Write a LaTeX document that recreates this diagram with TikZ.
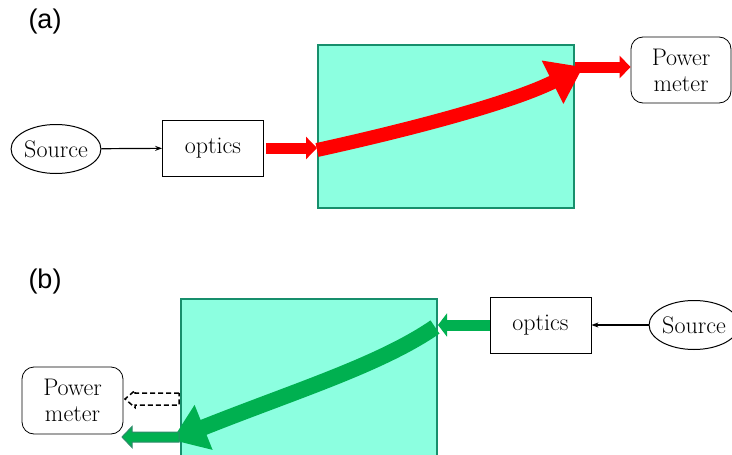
\documentclass[tikz,border=0pt]{standalone}
\usepackage{fontspec}
\newfontfamily\panelfont{Liberation Sans}
\usepackage{tikz}
\usetikzlibrary{arrows.meta, positioning, calc, shapes.geometric}

\definecolor{sampleFill}{HTML}{8CFFE0}
\definecolor{sampleEdge}{HTML}{178F6C}
\definecolor{beamGreen}{HTML}{00B050}
\definecolor{beamGreenEdge}{HTML}{2E8B6A}

\begin{document}
\begin{tikzpicture}[
    x=1pt, y=-1pt,
    panel_label/.style={font=\panelfont\fontsize{27}{30}\selectfont},
    node_src/.style={ellipse, draw, line width=1pt, inner sep=0pt, minimum width=87pt, minimum height=49pt, font=\fontsize{24}{27}\selectfont},
    node_box/.style={rectangle, draw, line width=0.8pt, inner sep=0pt, minimum width=101pt, minimum height=56pt, font=\fontsize{24}{27}\selectfont},
    node_meter/.style={rectangle, draw, rounded corners=12pt, line width=0.8pt, inner sep=0pt, minimum width=100pt, minimum height=66pt, align=center, font=\fontsize{24}{26}\selectfont},
    node_sample/.style={rectangle, draw=sampleEdge, fill=sampleFill, line width=2pt, minimum width=256pt, minimum height=163pt},
    edge_thin/.style={-{Stealth[length=7pt, width=5pt]}, line width=1.2pt},
    beam_red/.style={red, line width=11pt, -{Triangle[length=11pt, width=22pt]}},
    bend_red/.style={red, line width=14pt, -{Triangle[length=34pt, width=46pt]}},
    beam_green/.style={beamGreen, line width=11pt, -{Triangle[length=9pt, width=23pt]}},
    bend_green/.style={beamGreen, line width=16pt, -{Triangle[length=34pt, width=46pt]}},
    out_green/.style={draw=beamGreenEdge, fill=beamGreen, line width=1pt, line join=miter},
    out_dashed/.style={draw, dashed, dash pattern=on 5pt off 3pt, fill=white, line width=1.5pt}
  ]
    \clip (0,0) rectangle (732,455);

    % (a)
    \node[panel_label] (labA) at (45,22) {(a)};
    \node[node_src] (srcA) at (56,149) {Source};
    \node[node_box] (optA) at (213,148) {optics};
    \node[node_sample] (sampleA) at (446,126.5) {};
    \node[node_meter] (meterA) at (681,70) {Power\\meter};
    \coordinate (exitA) at (583,67);

    \draw[edge_thin] (srcA) -- (optA);
    \draw[beam_red] ([xshift=2pt]optA.east) -- (optA.east -| sampleA.west);
    \draw[bend_red] ([yshift=-2pt]optA.east -| sampleA.west) .. controls +(100,-22) and +(-70,35) .. (exitA);
    \draw[beam_red] ([xshift=-8pt]exitA) -- (meterA.west |- exitA);

    % (b)
    \node[panel_label] (labB) at (45,282) {(b)};
    \node[node_sample] (sampleB) at (309,380.5) {};
    \node[node_box] (optB) at (540.5,325) {optics};
    \node[node_src] (srcB) at (694,325) {Source};
    \node[node_meter, minimum width=101pt, minimum height=67pt] (meterB) at (72.5,400.5) {Power\\meter};
    \coordinate (exitB) at (172,440);
    \coordinate (leakTail) at ([xshift=-1pt]sampleB.west |- 0,399);
    \coordinate (outTail) at ([xshift=-1pt]sampleB.west |- 0,437);

    \draw[edge_thin] (srcB) -- (optB);
    \draw[beam_green] (optB.west) -- (optB.west -| sampleB.east);
    \draw[bend_green] ([xshift=-3pt,yshift=-2pt]optB.west -| sampleB.east) .. controls +(-55,38) and +(120,-48) .. (exitB);
    \draw[out_dashed] ($(leakTail)+(0,-6)$) -- ++(-44,0) -- ++(0,-2.5) -- ++(-10,8.5)
      -- ++(10,8.5) -- ++(0,-2.5) -- ++(44,0) -- cycle;
    \draw[out_green] ($(outTail)+(0,-5)$) -- ++(-47,0) -- ++(0,-5.5) -- ++(-10,10.5)
      -- ++(10,10.5) -- ++(0,-5.5) -- ++(47,0) -- cycle;
  \end{tikzpicture}
\end{document}
